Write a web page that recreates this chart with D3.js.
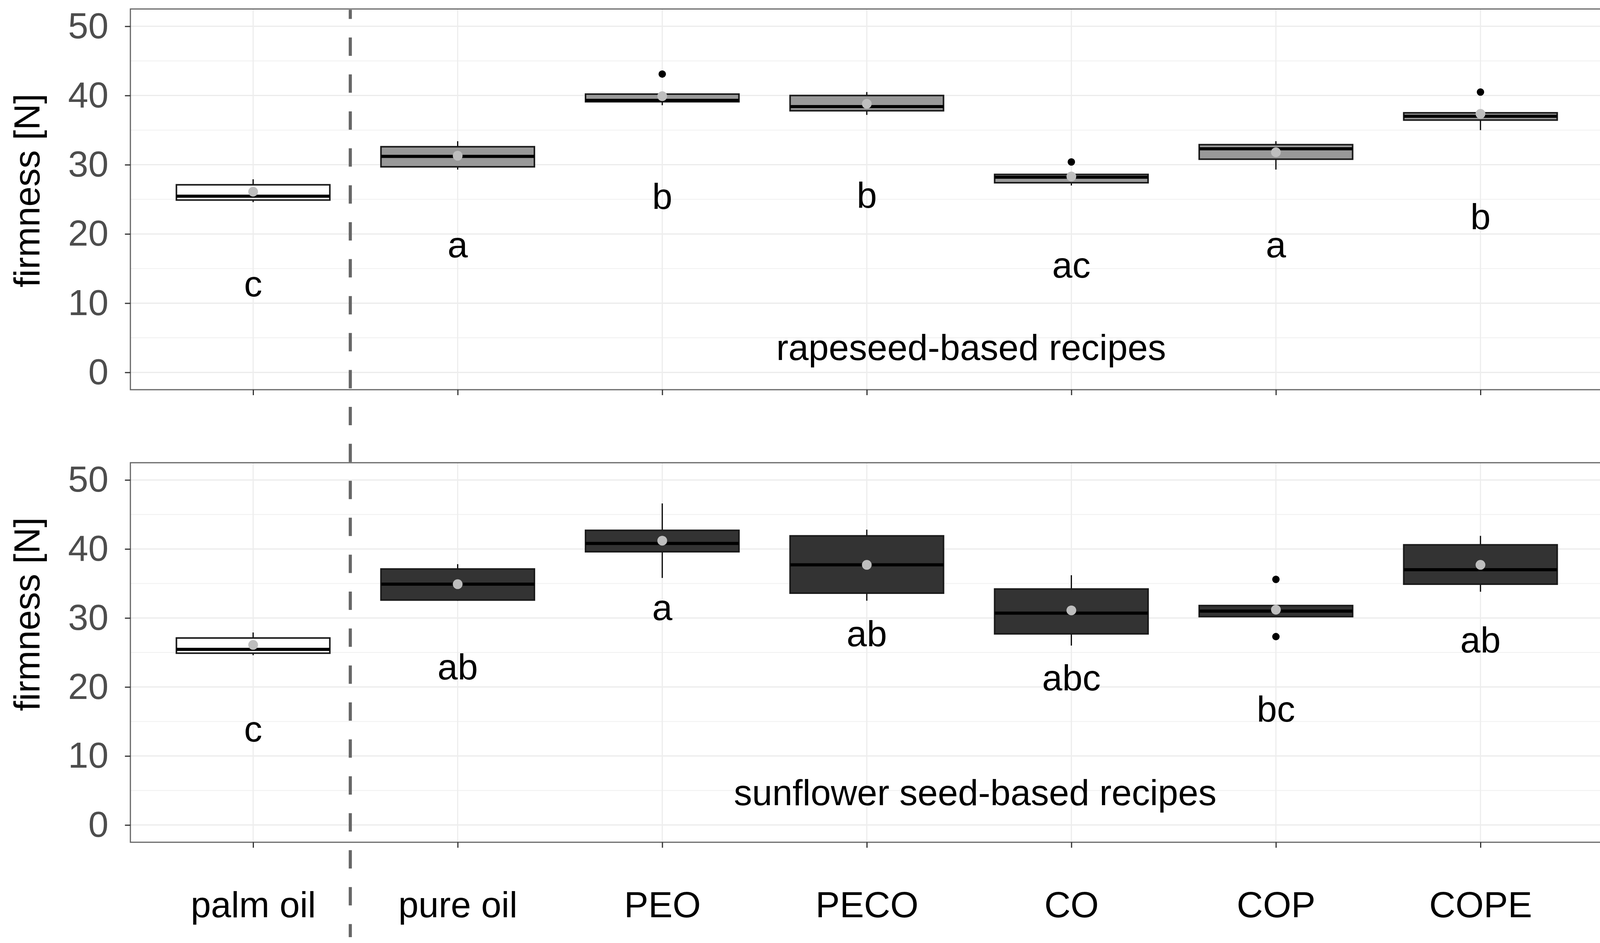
<html>
    <head>
        <style>
            body { margin: 0; background: #fff; }
            text { font-family: 'Liberation Sans', Arial, sans-serif; }
        </style>
        <script src="https://d3js.org/d3.v7.min.js"></script>
    </head>
    <body>
        <svg id="chart" width="4135" height="2415"></svg>
        <script>
            // categories along x, same for both panels
            const categories = ['palm oil', 'pure oil', 'PEO', 'PECO', 'CO', 'COP', 'COPE'];
            const yTicks = [0, 10, 20, 30, 40, 50];
            const yMinor = [5, 15, 25, 35, 45];

            // rapeseed-based recipes (top panel)
            const rapeLow    = [24.6, 29.3, 38.6, 37.2, 27.0, 29.3, 35.0];
            const rapeQ1     = [24.9, 29.7, 39.1, 37.8, 27.4, 30.8, 36.45];
            const rapeMedian = [25.45, 31.2, 39.3, 38.4, 28.2, 32.3, 37.0];
            const rapeQ3     = [27.1, 32.6, 40.2, 40.0, 28.6, 32.9, 37.5];
            const rapeHigh   = [27.9, 33.4, 40.3, 40.5, 28.6, 33.4, 37.5];
            const rapeMean   = [26.1, 31.3, 39.9, 38.8, 28.3, 31.8, 37.35];
            const rapeOutliers = [[], [], [43.1], [], [30.4], [], [40.5]];
            const rapeLetters  = ['c', 'a', 'b', 'b', 'ac', 'a', 'b'];
            const rapeLetterY  = [11.0, 16.6, 23.6, 23.8, 13.7, 16.6, 20.7];

            // sunflower seed-based recipes (bottom panel)
            const sunLow    = [24.6, 32.5, 35.8, 32.5, 26.0, 30.1, 33.8];
            const sunQ1     = [24.9, 32.6, 39.6, 33.6, 27.7, 30.2, 34.9];
            const sunMedian = [25.45, 34.9, 40.8, 37.7, 30.7, 31.0, 37.0];
            const sunQ3     = [27.1, 37.1, 42.7, 41.9, 34.2, 31.8, 40.6];
            const sunHigh   = [27.9, 37.8, 46.6, 42.8, 36.2, 31.9, 41.9];
            const sunMean   = [26.1, 34.9, 41.2, 37.7, 31.1, 31.2, 37.7];
            const sunOutliers = [[], [], [], [], [], [35.6, 27.3], []];
            const sunLetters  = ['c', 'ab', 'a', 'ab', 'abc', 'bc', 'ab'];
            const sunLetterY  = [12.1, 21.1, 29.7, 25.9, 19.5, 15.0, 25.0];

            const svg = d3.select('#chart');
            const FONT = 93;

            // x as position 1..7 (ggplot discrete positions)
            const x = d3.scaleLinear().domain([1, 7]).range([648, 3790]);
            const step = x(2) - x(1);
            const boxW = 0.75 * step;

            function build(low, q1, med, q3, high, mean, outl, letters, letterY) {
                return categories.map((c, i) => ({
                    cat: c, pos: i + 1, low: low[i], q1: q1[i], med: med[i], q3: q3[i],
                    high: high[i], mean: mean[i], out: outl[i], letter: letters[i], ly: letterY[i]
                }));
            }

            const panels = [
                { top: 23, bottom: 998, fill: '#999999', labels: false, titleY: 488,
                  note: 'rapeseed-based recipes', noteX: 4.51, noteY: 1.8,
                  rows: build(rapeLow, rapeQ1, rapeMedian, rapeQ3, rapeHigh, rapeMean, rapeOutliers, rapeLetters, rapeLetterY) },
                { top: 1185, bottom: 2157, fill: '#333333', labels: true, titleY: 1573,
                  note: 'sunflower seed-based recipes', noteX: 4.53, noteY: 2.9,
                  rows: build(sunLow, sunQ1, sunMedian, sunQ3, sunHigh, sunMean, sunOutliers, sunLetters, sunLetterY) }
            ];

            const left = x(0.4), right = x(7.6);

            panels.forEach(p => {
                const y = d3.scaleLinear().domain([-2.5, 52.5]).range([p.bottom, p.top]);
                const g = svg.append('g');

                // grid
                g.selectAll('.minor').data(yMinor).join('line')
                    .attr('x1', left).attr('x2', right)
                    .attr('y1', d => y(d)).attr('y2', d => y(d))
                    .style('stroke', '#f0f0f0').style('stroke-width', 2);
                g.selectAll('.major').data(yTicks).join('line')
                    .attr('x1', left).attr('x2', right)
                    .attr('y1', d => y(d)).attr('y2', d => y(d))
                    .style('stroke', '#ebebeb').style('stroke-width', 3);
                g.selectAll('.vgrid').data(p.rows).join('line')
                    .attr('x1', d => x(d.pos)).attr('x2', d => x(d.pos))
                    .attr('y1', p.top).attr('y2', p.bottom)
                    .style('stroke', '#ededed').style('stroke-width', 3);

                // whiskers
                const boxes = g.selectAll('.box').data(p.rows).join('g');
                boxes.append('line')
                    .attr('x1', d => x(d.pos)).attr('x2', d => x(d.pos))
                    .attr('y1', d => y(d.high)).attr('y2', d => y(d.q3))
                    .style('stroke', '#000').style('stroke-width', 3);
                boxes.append('line')
                    .attr('x1', d => x(d.pos)).attr('x2', d => x(d.pos))
                    .attr('y1', d => y(d.q1)).attr('y2', d => y(d.low))
                    .style('stroke', '#000').style('stroke-width', 3);
                // box
                boxes.append('rect')
                    .attr('x', d => x(d.pos) - boxW / 2)
                    .attr('width', boxW)
                    .attr('y', d => y(d.q3))
                    .attr('height', d => y(d.q1) - y(d.q3))
                    .style('fill', d => d.pos === 1 ? '#ffffff' : p.fill)
                    .style('stroke', '#1a1a1a').style('stroke-width', 4);
                // median
                boxes.append('line')
                    .attr('x1', d => x(d.pos) - boxW / 2).attr('x2', d => x(d.pos) + boxW / 2)
                    .attr('y1', d => y(d.med)).attr('y2', d => y(d.med))
                    .style('stroke', '#000').style('stroke-width', 8);
                // outliers
                boxes.selectAll('.out').data(d => d.out.map(v => ({ pos: d.pos, v: v }))).join('circle')
                    .attr('cx', d => x(d.pos)).attr('cy', d => y(d.v)).attr('r', 9.5)
                    .style('fill', '#000');
                // mean
                boxes.append('circle')
                    .attr('cx', d => x(d.pos)).attr('cy', d => y(d.mean)).attr('r', 12.5)
                    .style('fill', '#bebebe');

                // significance letters
                g.selectAll('.letter').data(p.rows).join('text')
                    .attr('x', d => x(d.pos)).attr('y', d => y(d.ly))
                    .attr('text-anchor', 'middle')
                    .style('font-size', FONT + 'px').style('fill', '#000')
                    .text(d => d.letter);

                g.append('text')
                    .attr('x', x(p.noteX)).attr('y', y(p.noteY))
                    .attr('text-anchor', 'middle')
                    .style('font-size', FONT + 'px').style('fill', '#000')
                    .text(p.note);

                // panel border
                g.append('rect')
                    .attr('x', left).attr('y', p.top)
                    .attr('width', right - left).attr('height', p.bottom - p.top)
                    .style('fill', 'none').style('stroke', '#666').style('stroke-width', 3);

                // y axis
                const ya = g.append('g').attr('transform', `translate(${left},0)`)
                    .call(d3.axisLeft(y).tickValues(yTicks).tickSize(14).tickPadding(42));
                ya.select('.domain').remove();
                ya.selectAll('line').style('stroke', '#333').style('stroke-width', 3);
                ya.selectAll('text').style('font-size', FONT + 'px').style('fill', '#4d4d4d')
                    .attr('font-family', null);

                // x axis ticks
                const xa = g.append('g').attr('transform', `translate(0,${p.bottom})`)
                    .call(d3.axisBottom(x).tickValues(d3.range(1, 8)).tickSize(14)
                        .tickFormat(d => p.labels ? categories[d - 1] : ''));
                xa.select('.domain').remove();
                xa.selectAll('line').style('stroke', '#333').style('stroke-width', 3);
                xa.selectAll('text').attr('y', 192).attr('dy', null)
                    .style('font-size', FONT + 'px').style('fill', '#000')
                    .attr('font-family', null);

                // y title
                g.append('text')
                    .attr('transform', `translate(${68 + FONT * 0.35},${p.titleY}) rotate(-90)`)
                    .attr('text-anchor', 'middle')
                    .style('font-size', FONT + 'px').style('fill', '#000')
                    .text('firmness [N]');
            });

            // dashed separator between palm oil and the recipes
            svg.append('line')
                .attr('x1', x(1.475)).attr('x2', x(1.475))
                .attr('y1', 25).attr('y2', 2400)
                .style('stroke', '#666').style('stroke-width', 8)
                .style('stroke-dasharray', '47 47.6')
                .style('stroke-dashoffset', 23.6);
        </script>
    </body>
</html>
